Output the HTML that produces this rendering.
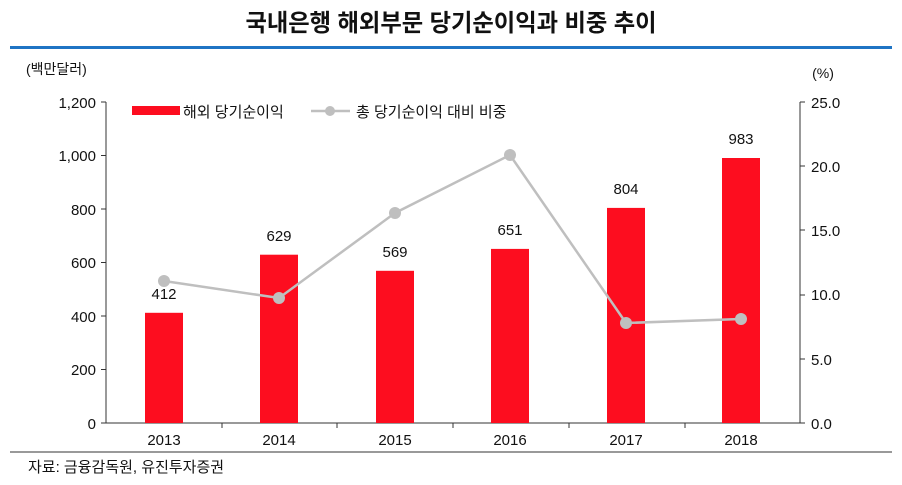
<!DOCTYPE html>
<html><head><meta charset="utf-8"><style>
body{margin:0;background:#fff;width:902px;height:480px;overflow:hidden}
text{font-family:"Liberation Sans","Noto Sans CJK KR",sans-serif}
</style></head><body>
<svg width="902" height="480" xmlns="http://www.w3.org/2000/svg">
<text x="451" y="31" text-anchor="middle" font-size="24" font-weight="bold" fill="#111" transform="translate(451 0) scale(0.97 1) translate(-451 0)">국내은행 해외부문 당기순이익과 비중 추이</text>
<rect x="10" y="46" width="882" height="3" fill="#1f74c4"/>
<text x="26" y="74" font-size="14" fill="#111">(백만달러)</text>
<text x="823" y="78" font-size="14" fill="#111" text-anchor="middle">(%)</text>
<g font-size="15" fill="#111" text-anchor="end">
<text x="96" y="108">1,200</text><text x="96" y="161">1,000</text><text x="96" y="215">800</text><text x="96" y="268">600</text><text x="96" y="322">400</text><text x="96" y="375">200</text><text x="96" y="429">0</text>
</g>
<g font-size="15" fill="#111">
<text x="811" y="108">25.0</text><text x="811" y="172">20.0</text><text x="811" y="236">15.0</text><text x="811" y="300">10.0</text><text x="811" y="365">5.0</text><text x="811" y="429">0.0</text>
</g>
<g stroke="#333" stroke-width="1">
<line x1="106" y1="102" x2="106" y2="423"/><line x1="101" y1="102" x2="106" y2="102"/>
<line x1="101" y1="155.5" x2="106" y2="155.5"/><line x1="101" y1="209" x2="106" y2="209"/><line x1="101" y1="262.5" x2="106" y2="262.5"/><line x1="101" y1="316" x2="106" y2="316"/><line x1="101" y1="369.5" x2="106" y2="369.5"/>
<line x1="800" y1="102" x2="800" y2="423"/><line x1="800" y1="102" x2="805" y2="102"/>
<line x1="800" y1="166" x2="805" y2="166"/><line x1="800" y1="230" x2="805" y2="230"/><line x1="800" y1="295" x2="805" y2="295"/><line x1="800" y1="359" x2="805" y2="359"/>
<line x1="101" y1="423" x2="805" y2="423"/>
<line x1="222" y1="423" x2="222" y2="428"/><line x1="337" y1="423" x2="337" y2="428"/><line x1="453" y1="423" x2="453" y2="428"/><line x1="569" y1="423" x2="569" y2="428"/><line x1="685" y1="423" x2="685" y2="428"/>
</g>
<g fill="#fd0d1f">
<rect x="145" y="312.8" width="38" height="110.2"/>
<rect x="260" y="254.7" width="38" height="168.3"/>
<rect x="376" y="270.8" width="38" height="152.2"/>
<rect x="491" y="248.9" width="38" height="174.1"/>
<rect x="607" y="207.9" width="38" height="215.1"/>
<rect x="722" y="158" width="38" height="265"/>
</g>
<g font-size="15" fill="#111" text-anchor="middle">
<text x="164" y="299">412</text><text x="279" y="241">629</text><text x="395" y="257">569</text><text x="510" y="235">651</text><text x="626" y="194">804</text><text x="741" y="144">983</text>
</g>
<polyline points="164,281 279,298 395,213 510,155 626,323 741,319" fill="none" stroke="#bfbfbf" stroke-width="2.5"/>
<g fill="#bfbfbf">
<circle cx="164" cy="281" r="6"/><circle cx="279" cy="298" r="6"/><circle cx="395" cy="213" r="6"/><circle cx="510" cy="155" r="6"/><circle cx="626" cy="323" r="6"/><circle cx="741" cy="319" r="6"/>
</g>
<g font-size="15" fill="#111" text-anchor="middle">
<text x="164" y="445">2013</text><text x="279" y="445">2014</text><text x="395" y="445">2015</text><text x="510" y="445">2016</text><text x="626" y="445">2017</text><text x="741" y="445">2018</text>
</g>
<rect x="132" y="106" width="48" height="9" fill="#fd0d1f"/>
<text x="183" y="117" font-size="15" fill="#111">해외 당기순이익</text>
<line x1="311" y1="111" x2="350" y2="111" stroke="#bfbfbf" stroke-width="2.5"/>
<circle cx="330" cy="111" r="5" fill="#bfbfbf"/>
<text x="356" y="117" font-size="15" fill="#111">총 당기순이익 대비 비중</text>
<rect x="10" y="451" width="882" height="2" fill="#999"/>
<text x="28" y="472" font-size="15" fill="#111">자료: 금융감독원, 유진투자증권</text>
</svg>
</body></html>
